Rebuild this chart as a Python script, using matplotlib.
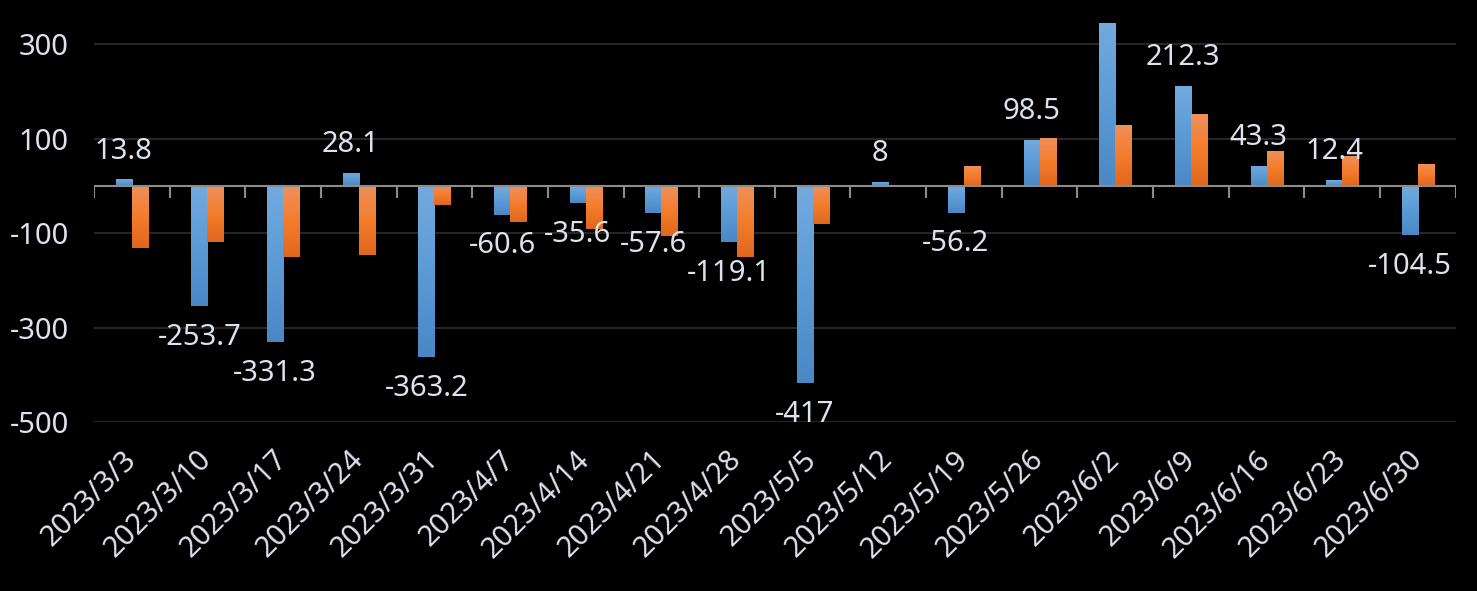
import matplotlib
matplotlib.use("Agg")
import matplotlib.pyplot as plt
import numpy as np
from matplotlib.colors import LinearSegmentedColormap

categories = ["2023/3/3", "2023/3/10", "2023/3/17", "2023/3/24", "2023/3/31",
              "2023/4/7", "2023/4/14", "2023/4/21", "2023/4/28", "2023/5/5",
              "2023/5/12", "2023/5/19", "2023/5/26", "2023/6/2", "2023/6/9",
              "2023/6/16", "2023/6/23", "2023/6/30"]
blue_values = [13.8, -253.7, -331.3, 28.1, -363.2, -60.6, -35.6, -57.6, -119.1,
               -417, 8, -56.2, 98.5, 346, 212.3, 43.3, 12.4, -104.5]
blue_labels = ["13.8", "-253.7", "-331.3", "28.1", "-363.2", "-60.6", "-35.6", "-57.6",
               "-119.1", "-417", "8", "-56.2", "98.5", "", "212.3", "43.3", "12.4", "-104.5"]
orange_values = [-132, -119, -151, -147, -41, -77, -92, -105, -151,
                 -81, 3, 43, 102, 130, 153, 75, 64, 47]
yticks = [300, 100, -100, -300, -500]

plt.rcParams['font.family'] = ['Noto Sans', 'DejaVu Sans']
plt.rcParams['font.weight'] = 'light'
FS = 21
TXT = "#dde3ec"

fig = plt.figure(figsize=(14.77, 5.91), dpi=100, facecolor="black")
ax = fig.add_axes([0.0636, 0.286, 0.922, 0.7107], facecolor="black")

x = np.arange(len(categories))
w = 0.2115
blue_cmap = LinearSegmentedColormap.from_list("b", ["#73aadf", "#5b9bd5", "#4a87c6"])
orange_cmap = LinearSegmentedColormap.from_list("o", ["#f0905c", "#f47d2c", "#e0661c"])

ymin, ymax = -500, 390
grad = np.linspace(0, 1, 256).reshape(-1, 1)

def grad_bars(xs, vals, cmap):
    bars = ax.bar(xs, vals, width=w, color="none", edgecolor="none", zorder=3)
    for b in bars:
        x0 = b.get_x(); x1 = x0 + b.get_width()
        y0 = b.get_y(); y1 = y0 + b.get_height()
        lo, hi = min(y0, y1), max(y0, y1)
        im = ax.imshow(grad, cmap=cmap, extent=[x0, x1, lo, hi], aspect="auto",
                       origin="upper", zorder=3, interpolation="bilinear")
        im.set_clip_path(b)
    return bars

grad_bars(x - w / 2, blue_values, blue_cmap)
grad_bars(x + w / 2, orange_values, orange_cmap)

for xi, v, lab in zip(x, blue_values, blue_labels):
    if not lab:
        continue
    if v >= 0:
        ax.annotate(lab, (xi - w / 2, v), xytext=(0, 15), textcoords="offset points",
                    ha="center", va="baseline", fontsize=FS, color=TXT, zorder=5)
    else:
        ax.annotate(lab, (xi - w / 2, v), xytext=(0, -28), textcoords="offset points",
                    ha="center", va="baseline", fontsize=FS, color=TXT, zorder=5)

ax.set_xlim(-0.5, len(categories) - 0.5)
ax.set_ylim(ymin, ymax)
ax.set_yticks(yticks)
ax.set_yticklabels([str(t) for t in yticks])
for t in yticks:
    ax.axhline(t, color="#262626", lw=1.5, zorder=1)
ax.axhline(0, color="#8c8c8c", lw=1.5, zorder=4)
ax.vlines(np.arange(len(categories) + 1) - 0.5, -25, 0, color="#8c8c8c", lw=1.5, zorder=4)

ax.set_xticks(x)
ax.set_xticklabels(categories, rotation=45, ha="right", rotation_mode="anchor",
                   va="center")
ax.tick_params(axis="x", length=0, pad=24, labelsize=FS, labelcolor=TXT)
ax.tick_params(axis="y", length=0, pad=18, labelsize=FS, labelcolor=TXT)
for s in ax.spines.values():
    s.set_visible(False)

fig.savefig("out.png", dpi=100, facecolor="black")
